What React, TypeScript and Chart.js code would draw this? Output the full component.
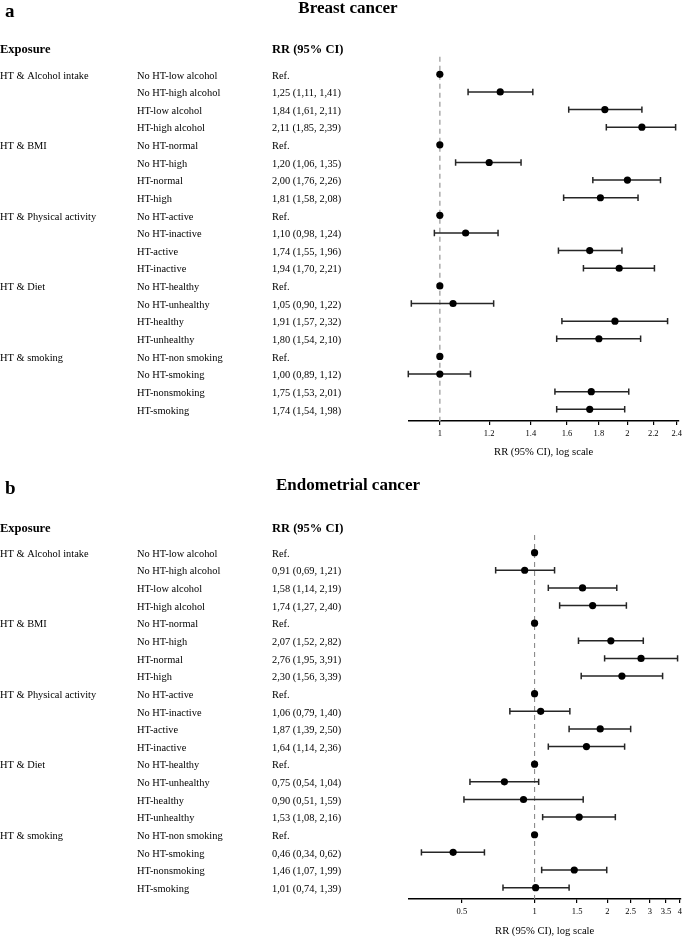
import React, { useEffect, useRef } from "react";
import { Chart, registerables } from "chart.js";

Chart.register(...registerables);

const SERIF = "'Liberation Serif', 'Times New Roman', serif";

// ---- data ----
const groups = ["HT & Alcohol intake", "HT & BMI", "HT & Physical activity", "HT & Diet", "HT & smoking"];
const rowsPerGroup = 4;
const subgroups = [
  "No HT-low alcohol", "No HT-high alcohol", "HT-low alcohol", "HT-high alcohol",
  "No HT-normal", "No HT-high", "HT-normal", "HT-high",
  "No HT-active", "No HT-inactive", "HT-active", "HT-inactive",
  "No HT-healthy", "No HT-unhealthy", "HT-healthy", "HT-unhealthy",
  "No HT-non smoking", "No HT-smoking", "HT-nonsmoking", "HT-smoking",
];

const breastRR = [1, 1.25, 1.84, 2.11, 1, 1.2, 2.0, 1.81, 1, 1.1, 1.74, 1.94, 1, 1.05, 1.91, 1.8, 1, 1.0, 1.75, 1.74];
const breastLo = [null, 1.11, 1.61, 1.85, null, 1.06, 1.76, 1.58, null, 0.98, 1.55, 1.7, null, 0.9, 1.57, 1.54, null, 0.89, 1.53, 1.54];
const breastHi = [null, 1.41, 2.11, 2.39, null, 1.35, 2.26, 2.08, null, 1.24, 1.96, 2.21, null, 1.22, 2.32, 2.1, null, 1.12, 2.01, 1.98];

const endoRR = [1, 0.91, 1.58, 1.74, 1, 2.07, 2.76, 2.3, 1, 1.06, 1.87, 1.64, 1, 0.75, 0.9, 1.53, 1, 0.46, 1.46, 1.01];
const endoLo = [null, 0.69, 1.14, 1.27, null, 1.52, 1.95, 1.56, null, 0.79, 1.39, 1.14, null, 0.54, 0.51, 1.08, null, 0.34, 1.07, 0.74];
const endoHi = [null, 1.21, 2.19, 2.4, null, 2.82, 3.91, 3.39, null, 1.4, 2.5, 2.36, null, 1.04, 1.59, 2.16, null, 0.62, 1.99, 1.39];

const breastTicks = [1, 1.2, 1.4, 1.6, 1.8, 2, 2.2, 2.4];
const endoTicks = [0.5, 1, 1.5, 2, 2.5, 3, 3.5, 4];
const breastRange = [0.89, 2.42];
const endoRange = [0.34, 4.04];

const fmt = (v: number) => v.toFixed(2).replace(".", ",");

type PanelProps = {
  letter: string;
  title: string;
  rr: number[];
  lo: (number | null)[];
  hi: (number | null)[];
  ticks: number[];
  range: number[];
  top: number;
  height: number;
  chartTop: number;
  yMax: number;
  padRight: number;
  padBottom: number;
  titlePadTop: number;
  letterBase: number;
  titleBase: number;
  headerY: number;
  dashColor: string;
  dashWidth: number;
};

function Panel(p: PanelProps) {
  const ref = useRef<HTMLCanvasElement | null>(null);
  useEffect(() => {
    if (!ref.current) return;
    const overlay = {
      id: "forest",
      beforeDatasetsDraw(chart: any) {
        const { ctx, chartArea } = chart;
        const xs = chart.scales.x;
        const ys = chart.scales.y;
        ctx.save();
        // reference line
        const x1 = xs.getPixelForValue(1);
        ctx.strokeStyle = p.dashColor;
        ctx.lineWidth = p.dashWidth;
        ctx.setLineDash([5, 4]);
        ctx.beginPath();
        ctx.moveTo(x1, chartArea.top);
        ctx.lineTo(x1, chartArea.bottom);
        ctx.stroke();
        ctx.setLineDash([]);
        // error bars
        ctx.strokeStyle = "#262626";
        ctx.lineWidth = 1.5;
        p.rr.forEach((_, i) => {
          const l = p.lo[i];
          const h = p.hi[i];
          if (l == null || h == null) return;
          const y = ys.getPixelForValue(i);
          const xl = xs.getPixelForValue(l);
          const xh = xs.getPixelForValue(h);
          ctx.beginPath();
          ctx.moveTo(xl, y);
          ctx.lineTo(xh, y);
          ctx.moveTo(xl, y - 3.2);
          ctx.lineTo(xl, y + 3.2);
          ctx.moveTo(xh, y - 3.2);
          ctx.lineTo(xh, y + 3.2);
          ctx.stroke();
        });
        ctx.restore();
      },
      afterDraw(chart: any) {
        const { ctx } = chart;
        const ys = chart.scales.y;
        ctx.save();
        ctx.fillStyle = "#000";
        // panel letter
        ctx.textBaseline = "alphabetic";
        ctx.textAlign = "left";
        ctx.font = `bold 19px ${SERIF}`;
        ctx.fillText(p.letter, 5, p.letterBase);
        // title
        ctx.textAlign = "center";
        ctx.font = `bold 17px ${SERIF}`;
        ctx.fillText(p.title, 348, p.titleBase);
        // headers
        ctx.textAlign = "left";
        ctx.textBaseline = "middle";
        ctx.font = `bold 12.5px ${SERIF}`;
        ctx.fillText("Exposure", 0, p.headerY);
        ctx.fillText("RR (95% CI)", 272, p.headerY);
        // rows
        ctx.font = `10.4px ${SERIF}`;
        groups.forEach((g, gi) => {
          ctx.fillText(g, 0, ys.getPixelForValue(gi * rowsPerGroup) + 1.5);
        });
        subgroups.forEach((s, i) => {
          const y = ys.getPixelForValue(i) + 1.5;
          ctx.fillText(s, 137, y);
          const l = p.lo[i];
          const h = p.hi[i];
          const txt = l == null || h == null ? "Ref." : `${fmt(p.rr[i])} (${fmt(l)}, ${fmt(h)})`;
          ctx.fillText(txt, 272, y);
        });
        ctx.restore();
      },
    };

    const chart = new Chart(ref.current, {
      type: "scatter",
      data: {
        datasets: [
          {
            data: p.rr.map((v, i) => ({ x: v, y: i })),
            backgroundColor: "#000",
            borderColor: "#000",
            borderWidth: 0,
            pointRadius: 3.6,
          },
        ],
      },
      options: {
        animation: false,
        responsive: false,
        layout: {
          padding: { left: 408.3, right: p.padRight, top: p.chartTop, bottom: p.padBottom },
        },
        plugins: { legend: { display: false }, tooltip: { enabled: false } },
        scales: {
          x: {
            type: "logarithmic",
            min: p.range[0],
            max: p.range[1],
            afterBuildTicks: (scale: any) => {
              scale.ticks = p.ticks.map((v) => ({ value: v }));
            },
            afterFit: (scale: any) => {
              scale.paddingLeft = 0;
              scale.paddingRight = 0;
            },
            grid: {
              display: true,
              drawOnChartArea: false,
              drawTicks: true,
              tickLength: 4,
              color: "#000",
              lineWidth: 1.2,
            },
            border: { display: true, color: "#000", width: 1.6 },
            ticks: {
              autoSkip: false,
              maxRotation: 0,
              padding: 4,
              color: "#000",
              font: { family: SERIF, size: 8.5, lineHeight: 1.2 },
              callback: (v: any) => String(v),
            },
            title: {
              display: true,
              text: "RR (95% CI), log scale",
              color: "#000",
              font: { family: SERIF, size: 10.6, lineHeight: 0.8 },
              padding: { top: p.titlePadTop, bottom: 0 },
            },
          },
          y: {
            type: "linear",
            display: false,
            reverse: true,
            min: -1,
            max: p.yMax,
          },
        },
      },
      plugins: [overlay],
    } as any);
    return () => chart.destroy();
  }, []);
  return (
    <canvas
      ref={ref}
      width={685}
      height={p.height}
      style={{ position: "absolute", left: 0, top: p.top, width: 685, height: p.height, display: "block" }}
    />
  );
}

export default function App() {
  return (
    <div style={{ position: "absolute", left: 0, top: 0, width: 685, height: 936, background: "#fff", overflow: "hidden" }}>
      <Panel
        letter="a"
        title="Breast cancer"
        rr={breastRR}
        lo={breastLo}
        hi={breastHi}
        ticks={breastTicks}
        range={breastRange}
        top={0}
        height={478}
        chartTop={56.7}
        yMax={19.66}
        padRight={6}
        padBottom={21.3}
        titlePadTop={5.1}
        letterBase={17}
        titleBase={13}
        headerY={50}
        dashColor="#b0b0b0"
        dashWidth={1.6}
      />
      <Panel
        letter="b"
        title="Endometrial cancer"
        rr={endoRR}
        lo={endoLo}
        hi={endoHi}
        ticks={endoTicks}
        range={endoRange}
        top={476}
        height={460}
        chartTop={59}
        yMax={19.64}
        padRight={1.7}
        padBottom={0.1}
        titlePadTop={6.3}
        letterBase={18}
        titleBase={14}
        headerY={53}
        dashColor="#8c8c8c"
        dashWidth={1.1}
      />
    </div>
  );
}
